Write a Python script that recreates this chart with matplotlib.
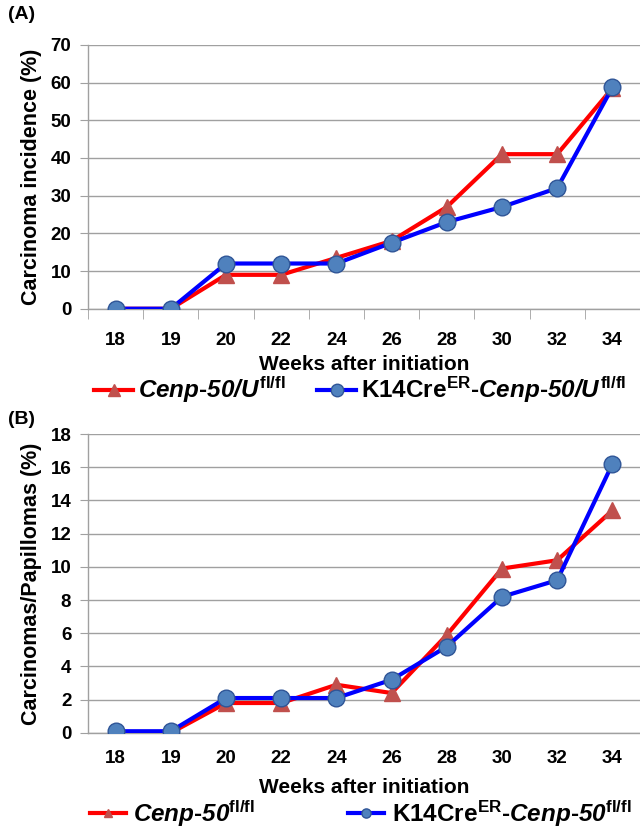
import matplotlib
matplotlib.use("Agg")
import numpy as np
import matplotlib.pyplot as plt

weeks = ["18", "19", "20", "22", "24", "26", "28", "30", "32", "34"]

# panel A: carcinoma incidence (%)
inc_ctrl = [0, 0, 9, 9, 13.5, 18, 27, 41, 41, 58.5]
inc_k14 = [0, 0, 12, 12, 12, 17.5, 23, 27, 32, 58.7]

# panel B: carcinomas / papillomas (%)
ratio_ctrl = [0, 0, 1.8, 1.8, 2.9, 2.4, 5.9, 9.9, 10.4, 13.4]
ratio_k14 = [0.1, 0.1, 2.1, 2.1, 2.1, 3.2, 5.2, 8.2, 9.2, 16.2]

plt.rcParams['font.family'] = ['Liberation Sans', 'DejaVu Sans']
plt.rcParams['mathtext.fontset'] = 'custom'
# rm is bold italic so digits inside math come out italic too
plt.rcParams['mathtext.rm'] = 'Liberation Sans:italic:bold'
plt.rcParams['mathtext.it'] = 'Liberation Sans:italic:bold'
plt.rcParams['mathtext.sf'] = 'Liberation Sans:bold'
plt.rcParams['mathtext.bf'] = 'Liberation Sans:bold'

RED = '#ff0000'
BLUE = '#0000ff'
GRID = '#a0a0a0'


def draw_panel(ax, ctrl, k14, ymax, step, ylabel, xpad, lpad, xticks_marks):
    x = np.arange(len(weeks))
    ax.plot(x, ctrl, color=RED, lw=3, marker='^', ms=11,
            mfc='#c0504d', mec='#c0504d', zorder=3)
    ax.plot(x, k14, color=BLUE, lw=3, marker='o', ms=12,
            mfc='#4f81bd', mec='#2f5597', mew=1, zorder=4)
    ax.set_xlim(-0.5, len(weeks) - 0.5)
    ax.set_ylim(0, ymax)
    ax.set_yticks(np.arange(0, ymax + 0.1, step))
    ax.grid(axis='y', color=GRID, lw=1)
    ax.set_axisbelow(True)
    for s in ['top', 'right']:
        ax.spines[s].set_visible(False)
    for s in ['left', 'bottom']:
        ax.spines[s].set_color(GRID)
        ax.spines[s].set_linewidth(1)
    ax.set_xticks(x)
    ax.set_xticklabels(weeks)
    if xticks_marks:
        ax.set_xticks(np.arange(-0.5, len(weeks)), minor=True)
        ax.tick_params(axis='x', which='minor', length=7, color=GRID, direction='out')
    ax.tick_params(axis='x', which='major', length=0, pad=xpad)
    ax.tick_params(axis='y', length=6, color=GRID, pad=6)
    for lab in ax.get_xticklabels() + ax.get_yticklabels():
        lab.set_fontsize(13.5)
        lab.set_fontweight('bold')
    ax.set_xlabel("Weeks after initiation", fontsize=15, fontweight='bold', labelpad=lpad)
    ax.set_ylabel(ylabel, fontsize=15.5, fontweight='bold', labelpad=6)


fig = plt.figure(figsize=(6.4, 8.3), dpi=100)

axA = fig.add_axes([0.1375, 0.628, 0.8625, 0.318])
draw_panel(axA, inc_ctrl, inc_k14, 70, 10, "Carcinoma incidence (%)", 17, 4, True)
axB = fig.add_axes([0.1375, 0.117, 0.8625, 0.360])
draw_panel(axB, ratio_ctrl, ratio_k14, 18, 2, "Carcinomas/Papillomas (%)", 12, 8, False)

fig.text(0.012, 0.982, "(A)", fontsize=14, fontweight='bold', va='center')
fig.text(0.012, 0.494, "(B)", fontsize=14, fontweight='bold', va='center')

labA = [r'$Cenp$-$50/U^{\mathsf{fl/fl}}$',
        r'K14Cre$^{\mathsf{ER}}$-$Cenp$-$50/U^{\mathsf{fl/fl}}$']
labB = [r'$Cenp$-$50^{\mathsf{fl/fl}}$',
        r'K14Cre$^{\mathsf{ER}}$-$Cenp$-$50^{\mathsf{fl/fl}}$']

hA = axA.get_lines()
fig.legend(hA, labA, loc='center', bbox_to_anchor=(0.563, 0.530), ncol=2,
           frameon=False, prop={'weight': 'bold', 'size': 17.5},
           handlelength=1.6, handletextpad=0.2, columnspacing=1.3, markerscale=0.75)
hB = axB.get_lines()
fig.legend(hB, labB, loc='center', bbox_to_anchor=(0.563, 0.020), ncol=2,
           frameon=False, prop={'weight': 'bold', 'size': 17.5},
           handlelength=1.5, handletextpad=0.3, columnspacing=3.8, markerscale=0.55)

fig.savefig("out.png", dpi=100)
